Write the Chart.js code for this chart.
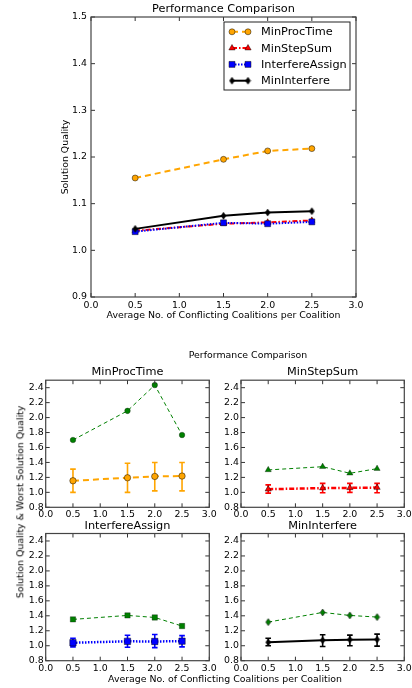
<!DOCTYPE html>
<html>
<head>
<meta charset="utf-8">
<script src="https://cdn.jsdelivr.net/npm/chart.js@4.4.1/dist/chart.umd.min.js"></script>
<style>
html,body{margin:0;padding:0;background:#fff;overflow:hidden;width:412px;height:688px;position:relative;}
canvas{position:absolute;}
.txt{position:absolute;font-family:'DejaVu Sans';color:#000;white-space:nowrap;font-size:9.4px;line-height:1;transform:translate(-50%,-50%);}
</style>
</head>
<body>
<canvas id="cTop"></canvas>
<canvas id="cA"></canvas>
<canvas id="cB"></canvas>
<canvas id="cC"></canvas>
<canvas id="cD"></canvas>
<div class="txt" style="left:248px;top:355px;">Performance Comparison</div>
<div class="txt" style="left:20px;top:502px;transform:translate(-50%,-50%) rotate(-90deg);">Solution Quality &amp; Worst Solution Quality</div>
<div class="txt" style="left:225px;top:679px;">Average No. of Conflicting Coalitions per Coalition</div>
<script>
// ---------------- DATA ----------------
const X_VALUES = [0.5, 1.5, 2.0, 2.5];
const X_TICKS = [0.0, 0.5, 1.0, 1.5, 2.0, 2.5, 3.0];
const Y_TICKS_TOP = [0.9, 1.0, 1.1, 1.2, 1.3, 1.4, 1.5];
const Y_TICKS_SUB = [0.8, 1.0, 1.2, 1.4, 1.6, 1.8, 2.0, 2.2, 2.4];
const SERIES = ['MinProcTime', 'MinStepSum', 'InterfereAssign', 'MinInterfere'];

const minProcTimeMean     = [1.155, 1.195, 1.213, 1.218];
const minStepSumMean      = [1.042, 1.057, 1.060, 1.064];
const interfereAssignMean = [1.040, 1.059, 1.057, 1.061];
const minInterfereMean    = [1.046, 1.074, 1.081, 1.084];

const minProcTimeLow      = [1.00, 1.00, 1.02, 1.02];
const minProcTimeHigh     = [1.31, 1.39, 1.40, 1.40];
const minStepSumLow       = [0.99, 0.995, 1.00, 0.995];
const minStepSumHigh      = [1.10, 1.12, 1.12, 1.12];
const interfereAssignLow  = [0.985, 0.98, 0.975, 0.985];
const interfereAssignHigh = [1.10, 1.14, 1.15, 1.135];
const minInterfereLow     = [1.00, 0.99, 1.00, 0.995];
const minInterfereHigh    = [1.10, 1.147, 1.142, 1.155];

const minProcTimeWorst     = [1.70, 2.09, 2.435, 1.767];
const minStepSumWorst      = [1.30, 1.343, 1.255, 1.317];
const interfereAssignWorst = [1.352, 1.405, 1.378, 1.263];
const minInterfereWorst    = [1.316, 1.445, 1.405, 1.383];

// ---------------- STYLE ----------------
const FONT = 'DejaVu Sans';
Chart.defaults.font.family = FONT;
Chart.defaults.font.size = 9.4;
Chart.defaults.color = '#000';

function thinDiamond(fill, w, h) {
  const c = document.createElement('canvas');
  c.width = w + 2; c.height = h + 2;
  const g = c.getContext('2d');
  g.beginPath();
  g.moveTo(c.width / 2, 1); g.lineTo(c.width - 1, c.height / 2);
  g.lineTo(c.width / 2, c.height - 1); g.lineTo(1, c.height / 2); g.closePath();
  g.fillStyle = fill; g.fill();
  g.strokeStyle = 'rgba(0,0,0,0.7)'; g.lineWidth = 0.8; g.stroke();
  return c;
}

const STYLE = {
  MinProcTime:     {color: '#FFA500', dash: [6, 4], width: 2, point: 'circle', radius: 3},
  MinStepSum:      {color: '#FF0000', dash: [5, 2, 1.5, 2], width: 2, point: 'triangle', radius: 3.6},
  InterfereAssign: {color: '#0000FF', dash: [1.5, 1.5], width: 2, point: 'rect', radius: 4.2},
  MinInterfere:    {color: '#000000', dash: [], width: 2, point: thinDiamond('#000', 5, 7), radius: 4}
};
const SUB_STYLE = {
  MinProcTime:     {width: 2, dash: [6, 4], radius: 3.2},
  MinStepSum:      {width: 2.5, dash: [5, 2, 1.5, 2], radius: 3.6},
  InterfereAssign: {width: 2.5, dash: [1.5, 1.5], radius: 4.5},
  MinInterfere:    {width: 2, dash: [], radius: 4}
};
const GREEN = '#008000';
const GREEN_POINT = {
  MinProcTime: {point: 'circle', radius: 2.8},
  MinStepSum: {point: 'triangle', radius: 3.6},
  InterfereAssign: {point: 'rect', radius: 3.8},
  MinInterfere: {point: thinDiamond(GREEN, 5, 7), radius: 4}
};

const MEANS = {MinProcTime: minProcTimeMean, MinStepSum: minStepSumMean, InterfereAssign: interfereAssignMean, MinInterfere: minInterfereMean};
const LOWS = {MinProcTime: minProcTimeLow, MinStepSum: minStepSumLow, InterfereAssign: interfereAssignLow, MinInterfere: minInterfereLow};
const HIGHS = {MinProcTime: minProcTimeHigh, MinStepSum: minStepSumHigh, InterfereAssign: interfereAssignHigh, MinInterfere: minInterfereHigh};
const WORSTS = {MinProcTime: minProcTimeWorst, MinStepSum: minStepSumWorst, InterfereAssign: interfereAssignWorst, MinInterfere: minInterfereWorst};

function pts(ys) { return X_VALUES.map((x, i) => ({x: x, y: ys[i]})); }

// ---------------- PLUGINS ----------------
const framePlugin = {
  id: 'frame',
  afterDatasetsDraw(chart) {
    const {ctx, chartArea: a, scales} = chart;
    const tl = 4;
    ctx.save();
    ctx.strokeStyle = '#333';
    ctx.lineWidth = 1;
    scales.x.ticks.forEach(t => {
      const px = scales.x.getPixelForValue(t.value);
      ctx.beginPath();
      ctx.moveTo(px, a.bottom); ctx.lineTo(px, a.bottom - tl);
      ctx.moveTo(px, a.top); ctx.lineTo(px, a.top + tl);
      ctx.stroke();
    });
    scales.y.ticks.forEach(t => {
      const py = scales.y.getPixelForValue(t.value);
      ctx.beginPath();
      ctx.moveTo(a.left, py); ctx.lineTo(a.left + tl, py);
      ctx.moveTo(a.right, py); ctx.lineTo(a.right - tl, py);
      ctx.stroke();
    });
    ctx.lineWidth = 1.2;
    ctx.strokeStyle = '#444';
    ctx.strokeRect(a.left, a.top, a.right - a.left, a.bottom - a.top);
    ctx.restore();
  }
};

const errorPlugin = {
  id: 'errbars',
  beforeDatasetsDraw(chart) {
    const {ctx, scales} = chart;
    chart.data.datasets.forEach(ds => {
      if (!ds.errLow) return;
      ctx.save();
      ctx.strokeStyle = ds.errColor || ds.borderColor;
      ctx.lineWidth = 1.6;
      ctx.setLineDash([]);
      ds.data.forEach((p, i) => {
        const px = scales.x.getPixelForValue(p.x);
        const y1 = scales.y.getPixelForValue(ds.errLow[i]);
        const y2 = scales.y.getPixelForValue(ds.errHigh[i]);
        ctx.beginPath();
        ctx.moveTo(px, y1); ctx.lineTo(px, y2);
        ctx.moveTo(px - 2.8, y1); ctx.lineTo(px + 2.8, y1);
        ctx.moveTo(px - 2.8, y2); ctx.lineTo(px + 2.8, y2);
        ctx.stroke();
      });
      ctx.restore();
    });
  }
};

function drawMarker(ctx, style, radius, x, y, fill) {
  ctx.save();
  ctx.fillStyle = fill;
  ctx.strokeStyle = 'rgba(0,0,0,0.6)';
  ctx.lineWidth = 0.8;
  ctx.setLineDash([]);
  if (style instanceof HTMLCanvasElement) {
    ctx.drawImage(style, x - style.width / 2, y - style.height / 2);
  } else if (Chart.helpers && Chart.helpers.drawPoint) {
    Chart.helpers.drawPoint(ctx, {pointStyle: style, radius: radius, rotation: 0, borderWidth: 0.8}, x, y);
  } else {
    ctx.beginPath(); ctx.arc(x, y, radius, 0, Math.PI * 2); ctx.fill(); ctx.stroke();
  }
  ctx.restore();
}

const legendPlugin = {
  id: 'mplLegend',
  afterDraw(chart, args, opts) {
    if (!opts || !opts.show) return;
    const ctx = chart.ctx;
    ctx.save();
    ctx.fillStyle = '#fff';
    ctx.fillRect(opts.x, opts.y, opts.w, opts.h);
    ctx.strokeStyle = '#222';
    ctx.lineWidth = 1;
    ctx.strokeRect(opts.x, opts.y, opts.w, opts.h);
    chart.data.datasets.slice().sort((a, b) => a.legendIndex - b.legendIndex).forEach((ds, i) => {
      const y = opts.firstRow + i * opts.rowH;
      ctx.save();
      ctx.strokeStyle = ds.borderColor;
      ctx.lineWidth = ds.borderWidth;
      ctx.setLineDash(ds.borderDash || []);
      ctx.beginPath();
      ctx.moveTo(opts.x0, y); ctx.lineTo(opts.x1, y);
      ctx.stroke();
      ctx.restore();
      drawMarker(ctx, ds.pointStyle, ds.pointRadius, opts.x0, y, ds.pointBackgroundColor);
      drawMarker(ctx, ds.pointStyle, ds.pointRadius, opts.x1, y, ds.pointBackgroundColor);
      ctx.fillStyle = '#000';
      ctx.font = '11.3px ' + FONT;
      ctx.textBaseline = 'middle';
      ctx.textAlign = 'left';
      ctx.fillText(ds.label, opts.textX, y + 0.5);
    });
    ctx.restore();
  }
};

// ---------------- CHART BUILDER ----------------
function makeChart(id, box, area, datasets, opt) {
  const cv = document.getElementById(id);
  cv.width = box.width; cv.height = box.height;
  cv.style.left = box.left + 'px'; cv.style.top = box.top + 'px';
  const aLeft = area.left - box.left, aTop = area.top - box.top;
  const aRight = area.right - box.left, aBottom = area.bottom - box.top;
  const titleSize = 11.3, lineH = titleSize * 1.2;
  const tPadTop = (opt.titleCenter - box.top) - lineH / 2;
  const tPadBottom = aTop - lineH - tPadTop;
  const yTitleLH = 9.4 * 1.2;
  return new Chart(cv, {
    type: 'line',
    data: {datasets: datasets},
    options: {
      responsive: false,
      animation: false,
      events: [],
      layout: {padding: {left: 0, top: 0, bottom: 0, right: box.width - aRight}},
      plugins: {
        legend: {display: false},
        tooltip: {enabled: false},
        title: {
          display: true, text: opt.title, fullSize: false, color: '#000',
          font: {family: FONT, size: titleSize, weight: 'normal'},
          padding: {top: tPadTop, bottom: tPadBottom}
        },
        mplLegend: opt.legend || {show: false}
      },
      scales: {
        x: {
          type: 'linear', min: 0, max: 3,
          grid: {display: false, drawTicks: false},
          border: {display: false},
          afterBuildTicks: s => { s.ticks = X_TICKS.map(v => ({value: v})); },
          afterFit: s => { s.height = box.height - aBottom; },
          ticks: {autoSkip: false, maxRotation: 0, padding: opt.xPad, color: '#000',
                  callback: v => Number(v).toFixed(1)},
          title: opt.xTitle ? {display: true, text: opt.xTitle, color: '#000',
                  font: {family: FONT, size: 9.4},
                  padding: {top: 0, bottom: (box.height - opt.xTitleCenter) - yTitleLH / 2}} : {display: false}
        },
        y: {
          type: 'linear', min: opt.yMin, max: opt.yMax,
          grid: {display: false, drawTicks: false},
          border: {display: false},
          afterBuildTicks: s => { s.ticks = opt.yTicks.map(v => ({value: v})); },
          afterFit: s => { s.width = aLeft; },
          ticks: {autoSkip: false, padding: opt.yPad, color: '#000',
                  callback: v => Number(v).toFixed(1)},
          title: opt.yTitle ? {display: true, text: opt.yTitle, color: '#000',
                  font: {family: FONT, size: 9.4},
                  padding: {top: (opt.yTitleCenter - box.left) - yTitleLH / 2, bottom: 0}} : {display: false}
        }
      }
    },
    plugins: [errorPlugin, framePlugin, legendPlugin]
  });
}

// ---------------- TOP CHART ----------------
const topDatasets = SERIES.map((name, i) => {
  const st = STYLE[name];
  return {
    label: name,
    legendIndex: i,
    order: SERIES.length - i,
    data: pts(MEANS[name]),
    borderColor: st.color,
    borderWidth: st.width,
    borderDash: st.dash,
    pointStyle: st.point,
    pointRadius: st.radius,
    pointBackgroundColor: st.color,
    pointBorderColor: 'rgba(0,0,0,0.6)',
    pointBorderWidth: 0.8,
    fill: false,
    tension: 0
  };
});

makeChart('cTop', {left: 0, top: 0, width: 412, height: 330},
  {left: 91, top: 17, right: 356, bottom: 297}, topDatasets, {
    title: 'Performance Comparison', titleCenter: 9,
    yMin: 0.9, yMax: 1.5, yTicks: Y_TICKS_TOP, xPad: 3, yPad: 4,
    yTitle: 'Solution Quality', yTitleCenter: 66,
    xTitle: 'Average No. of Conflicting Coalitions per Coalition', xTitleCenter: 316,
    legend: {show: true, x: 224, y: 22, w: 126, h: 68, firstRow: 31.8, rowH: 16.3, x0: 232, x1: 248, textX: 261}
  });

// ---------------- SUBPLOTS ----------------
function subDatasets(name) {
  const st = STYLE[name], ss = SUB_STYLE[name], gp = GREEN_POINT[name];
  return [
    {
      label: name + ' worst',
      order: 2,
      data: pts(WORSTS[name]),
      borderColor: GREEN, borderWidth: 1, borderDash: [4, 3],
      pointStyle: gp.point, pointRadius: gp.radius,
      pointBackgroundColor: GREEN, pointBorderColor: 'rgba(0,0,0,0.5)', pointBorderWidth: 0.6,
      fill: false, tension: 0
    },
    {
      label: name,
      order: 1,
      data: pts(MEANS[name]),
      errLow: LOWS[name], errHigh: HIGHS[name], errColor: st.color,
      borderColor: st.color, borderWidth: ss.width, borderDash: ss.dash,
      pointStyle: st.point, pointRadius: ss.radius,
      pointBackgroundColor: st.color, pointBorderColor: 'rgba(0,0,0,0.6)', pointBorderWidth: 0.8,
      fill: false, tension: 0
    }
  ];
}

const COL_BOX = [{left: 0, width: 225}, {left: 215, width: 215}];
const COL_AREA = [{left: 45.7, right: 209.3}, {left: 241, right: 404.3}];
const ROW_BOX = [{top: 360, height: 167}, {top: 515, height: 160}];
const ROW_AREA = [{top: 380.2, bottom: 507.3, titleCenter: 372}, {top: 533.5, bottom: 660.7, titleCenter: 525.7}];
const IDS = ['cA', 'cB', 'cC', 'cD'];

SERIES.forEach((name, k) => {
  const r = Math.floor(k / 2), c = k % 2;
  makeChart(IDS[k],
    {left: COL_BOX[c].left, top: ROW_BOX[r].top, width: COL_BOX[c].width, height: ROW_BOX[r].height},
    {left: COL_AREA[c].left, right: COL_AREA[c].right, top: ROW_AREA[r].top, bottom: ROW_AREA[r].bottom},
    subDatasets(name), {
      title: name, titleCenter: ROW_AREA[r].titleCenter,
      yMin: 0.8, yMax: 2.5, yTicks: Y_TICKS_SUB, xPad: 2, yPad: 2
    });
});
</script>
</body>
</html>
